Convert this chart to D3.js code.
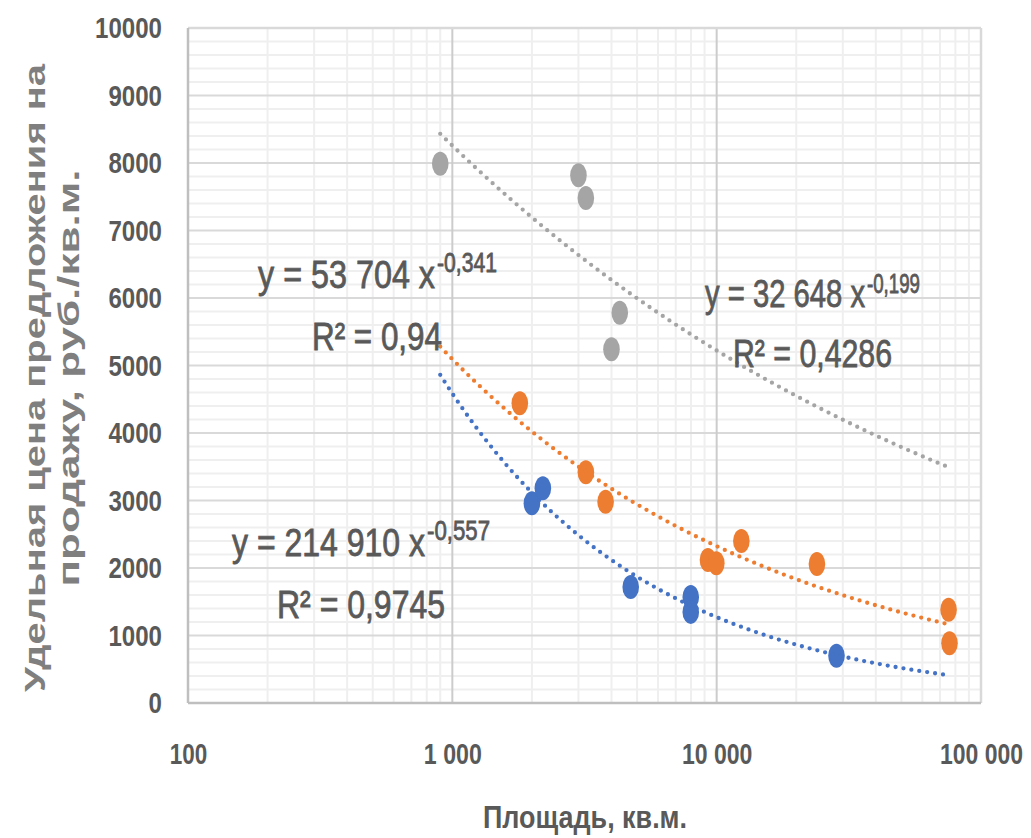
<!DOCTYPE html>
<html>
<head>
<meta charset="utf-8">
<script src="https://cdn.jsdelivr.net/npm/d3@7"></script>
<style>
  body { margin: 0; background: #fff; }
  svg { display: block; font-family: "Liberation Sans", Arial, sans-serif; }
</style>
</head>
<body>
<div id="chart"></div>
<script>
// values
var blueArea = [2000, 2200, 4730, 7980, 7980, 28400];
var bluePrice = [2960, 3180, 1720, 1570, 1350, 700];
var orangeArea = [1800, 3200, 3800, 9270, 9970, 12400, 23950, 75400, 76000];
var orangePrice = [4440, 3420, 2980, 2120, 2070, 2400, 2060, 1380, 885];
var greyArea = [900, 3000, 3200, 4300, 4000];
var greyPrice = [7990, 7820, 7480, 5780, 5240];

// power trendlines y = a * x^b, as printed on the chart
var trendCoef = [214910, 53704, 32648];
var trendPow = [-0.557, -0.341, -0.199];
var trendR2 = ["0,9745", "0,94", "0,4286"];
var trendFrom = 900, trendTo = 76000;

var xTicks = [100, 1000, 10000, 100000];
var xTickLabels = ["100", "1 000", "10 000", "100 000"];
var yTicks = [0, 1000, 2000, 3000, 4000, 5000, 6000, 7000, 8000, 9000, 10000];

var xTitle = "Площадь, кв.м.";
var yTitle = ["Удельная цена предложения на", "продажу, руб./кв.м."];

var colors = ["#4472C4", "#ED7D31", "#A5A5A5"];

var width = 1031, height = 838;
var plotL = 188, plotR = 981, plotT = 28, plotB = 703;

var series = [
  { area: blueArea, price: bluePrice },
  { area: orangeArea, price: orangePrice },
  { area: greyArea, price: greyPrice }
];

// label placement for each trendline equation (pixels)
var eqPos = [
  { x: 232, y: 556, w: 193, sx: 427, sy: 540, sw: 63, rx: 277, ry: 618, rw: 168 },
  { x: 258, y: 288, w: 177, sx: 437, sy: 272, sw: 60, rx: 312, ry: 350, rw: 130 },
  { x: 705, y: 307, w: 160, sx: 867, sy: 293, sw: 53, rx: 733, ry: 367, rw: 159 }
];

var x = d3.scaleLog().domain([100, 100000]).range([plotL, plotR]);
var y = d3.scaleLinear().domain([0, 10000]).range([plotB, plotT]);

var svg = d3.select("#chart").append("svg")
  .attr("width", width)
  .attr("height", height);

svg.append("rect").attr("width", width).attr("height", height).attr("fill", "#fff");

// minor grid
var grid = svg.append("g");
grid.selectAll(".vminor")
  .data(x.ticks().filter(function(d) { return xTicks.indexOf(d) < 0; }))
  .enter().append("line")
  .attr("x1", function(d) { return x(d); })
  .attr("x2", function(d) { return x(d); })
  .attr("y1", plotT).attr("y2", plotB)
  .attr("stroke", "#efefef").attr("stroke-width", 2);
grid.selectAll(".hminor")
  .data(y.ticks(50).filter(function(d) { return d % 1000 !== 0; }))
  .enter().append("line")
  .attr("x1", plotL).attr("x2", plotR)
  .attr("y1", function(d) { return y(d); })
  .attr("y2", function(d) { return y(d); })
  .attr("stroke", "#efefef").attr("stroke-width", 2);

// major grid
grid.selectAll(".hmajor")
  .data(yTicks.slice(1))
  .enter().append("line")
  .attr("x1", plotL).attr("x2", plotR)
  .attr("y1", function(d) { return y(d); })
  .attr("y2", function(d) { return y(d); })
  .attr("stroke", "#d9d9d9").attr("stroke-width", 2);
grid.selectAll(".vmajor")
  .data(xTicks.slice(1, -1))
  .enter().append("line")
  .attr("x1", function(d) { return x(d); })
  .attr("x2", function(d) { return x(d); })
  .attr("y1", plotT).attr("y2", plotB)
  .attr("stroke", "#cccccc").attr("stroke-width", 2);

// plot frame
svg.append("line").attr("x1", plotL).attr("x2", plotR).attr("y1", plotT).attr("y2", plotT)
  .attr("stroke", "#d9d9d9").attr("stroke-width", 2.5);
svg.append("line").attr("x1", plotR).attr("x2", plotR).attr("y1", plotT).attr("y2", plotB)
  .attr("stroke", "#d9d9d9").attr("stroke-width", 2.5);
svg.append("line").attr("x1", plotL).attr("x2", plotL).attr("y1", plotT).attr("y2", plotB)
  .attr("stroke", "#bfbfbf").attr("stroke-width", 2.5);
svg.append("line").attr("x1", plotL).attr("x2", plotR).attr("y1", plotB).attr("y2", plotB)
  .attr("stroke", "#bfbfbf").attr("stroke-width", 2.5);

// axes labels
var xAxis = svg.append("g")
  .attr("transform", "translate(0," + plotB + ")")
  .call(d3.axisBottom(x).tickValues(xTicks)
    .tickFormat(function(d, i) { return xTickLabels[i]; })
    .tickSize(0).tickPadding(40));
xAxis.select(".domain").remove();
xAxis.selectAll("text")
  .attr("font-size", 30).attr("font-weight", "bold").attr("fill", "#595959")
  .attr("font-family", "Liberation Sans, Arial, sans-serif")
  .attr("lengthAdjust", "spacingAndGlyphs")
  .attr("textLength", function(d, i) {
    var s = xTickLabels[i];
    var digits = s.replace(/ /g, "").length;
    return digits * 12.5 + (s.length - digits) * 8;
  });

var yAxis = svg.append("g")
  .attr("transform", "translate(" + plotL + ",0)")
  .call(d3.axisLeft(y).tickValues(yTicks).tickFormat(d3.format("d"))
    .tickSize(0).tickPadding(26));
yAxis.select(".domain").remove();
yAxis.selectAll("text")
  .attr("font-size", 30).attr("font-weight", "bold").attr("fill", "#595959")
  .attr("font-family", "Liberation Sans, Arial, sans-serif")
  .attr("lengthAdjust", "spacingAndGlyphs")
  .attr("textLength", function(d) { return String(d).length * 13.4; });

// axis titles
svg.append("text")
  .attr("x", 585).attr("y", 828)
  .attr("text-anchor", "middle")
  .attr("font-size", 31).attr("font-weight", "bold").attr("fill", "#595959")
  .attr("textLength", 204).attr("lengthAdjust", "spacingAndGlyphs")
  .text(xTitle);

var yt = svg.append("g").attr("transform", "translate(0,378) rotate(-90)");
yt.selectAll("text")
  .data(yTitle)
  .enter().append("text")
  .attr("x", 0)
  .attr("y", function(d, i) { return 45 + i * 34; })
  .attr("text-anchor", "middle")
  .attr("font-size", 29).attr("font-weight", "bold").attr("fill", "#7f7f7f")
  .attr("textLength", function(d, i) { return i === 0 ? 628 : 417; })
  .attr("lengthAdjust", "spacingAndGlyphs")
  .text(function(d) { return d; });

// points
series.forEach(function(s, k) {
  svg.append("g").selectAll("ellipse")
    .data(s.area)
    .enter().append("ellipse")
    .attr("cx", function(d) { return x(d); })
    .attr("cy", function(d, i) { return y(s.price[i]); })
    .attr("rx", 8.3).attr("ry", 12)
    .attr("fill", colors[k]);
});

// trendlines
var line = d3.line()
  .x(function(d) { return x(d[0]); })
  .y(function(d) { return y(d[1]); });

trendCoef.forEach(function(a, k) {
  var b = trendPow[k];
  var pts = d3.range(0, 101).map(function(i) {
    var xv = trendFrom * Math.pow(trendTo / trendFrom, i / 100);
    return [xv, a * Math.pow(xv, b)];
  });
  svg.append("path")
    .attr("d", line(pts))
    .attr("fill", "none")
    .attr("stroke", colors[k])
    .attr("stroke-width", 4.3)
    .attr("stroke-linecap", "round")
    .attr("stroke-dasharray", "0 8");
});

// equation labels
function fmtCoef(a) {
  return String(a).replace(/\B(?=(\d{3})+(?!\d))/g, " ");
}

var eq = svg.append("g").attr("fill", "#595959")
  .attr("stroke", "#595959").attr("stroke-width", 0.8);
trendCoef.forEach(function(a, k) {
  var p = eqPos[k];
  eq.append("text")
    .attr("x", p.x).attr("y", p.y)
    .attr("font-size", 38)
    .attr("textLength", p.w).attr("lengthAdjust", "spacingAndGlyphs")
    .text("y = " + fmtCoef(a) + " x");
  eq.append("text")
    .attr("x", p.sx).attr("y", p.sy)
    .attr("font-size", 27)
    .attr("textLength", p.sw).attr("lengthAdjust", "spacingAndGlyphs")
    .text(String(trendPow[k]).replace(".", ","));
  eq.append("text")
    .attr("x", p.rx).attr("y", p.ry)
    .attr("font-size", 38)
    .attr("textLength", p.rw).attr("lengthAdjust", "spacingAndGlyphs")
    .text("R² = " + trendR2[k]);
});
</script>
</body>
</html>
